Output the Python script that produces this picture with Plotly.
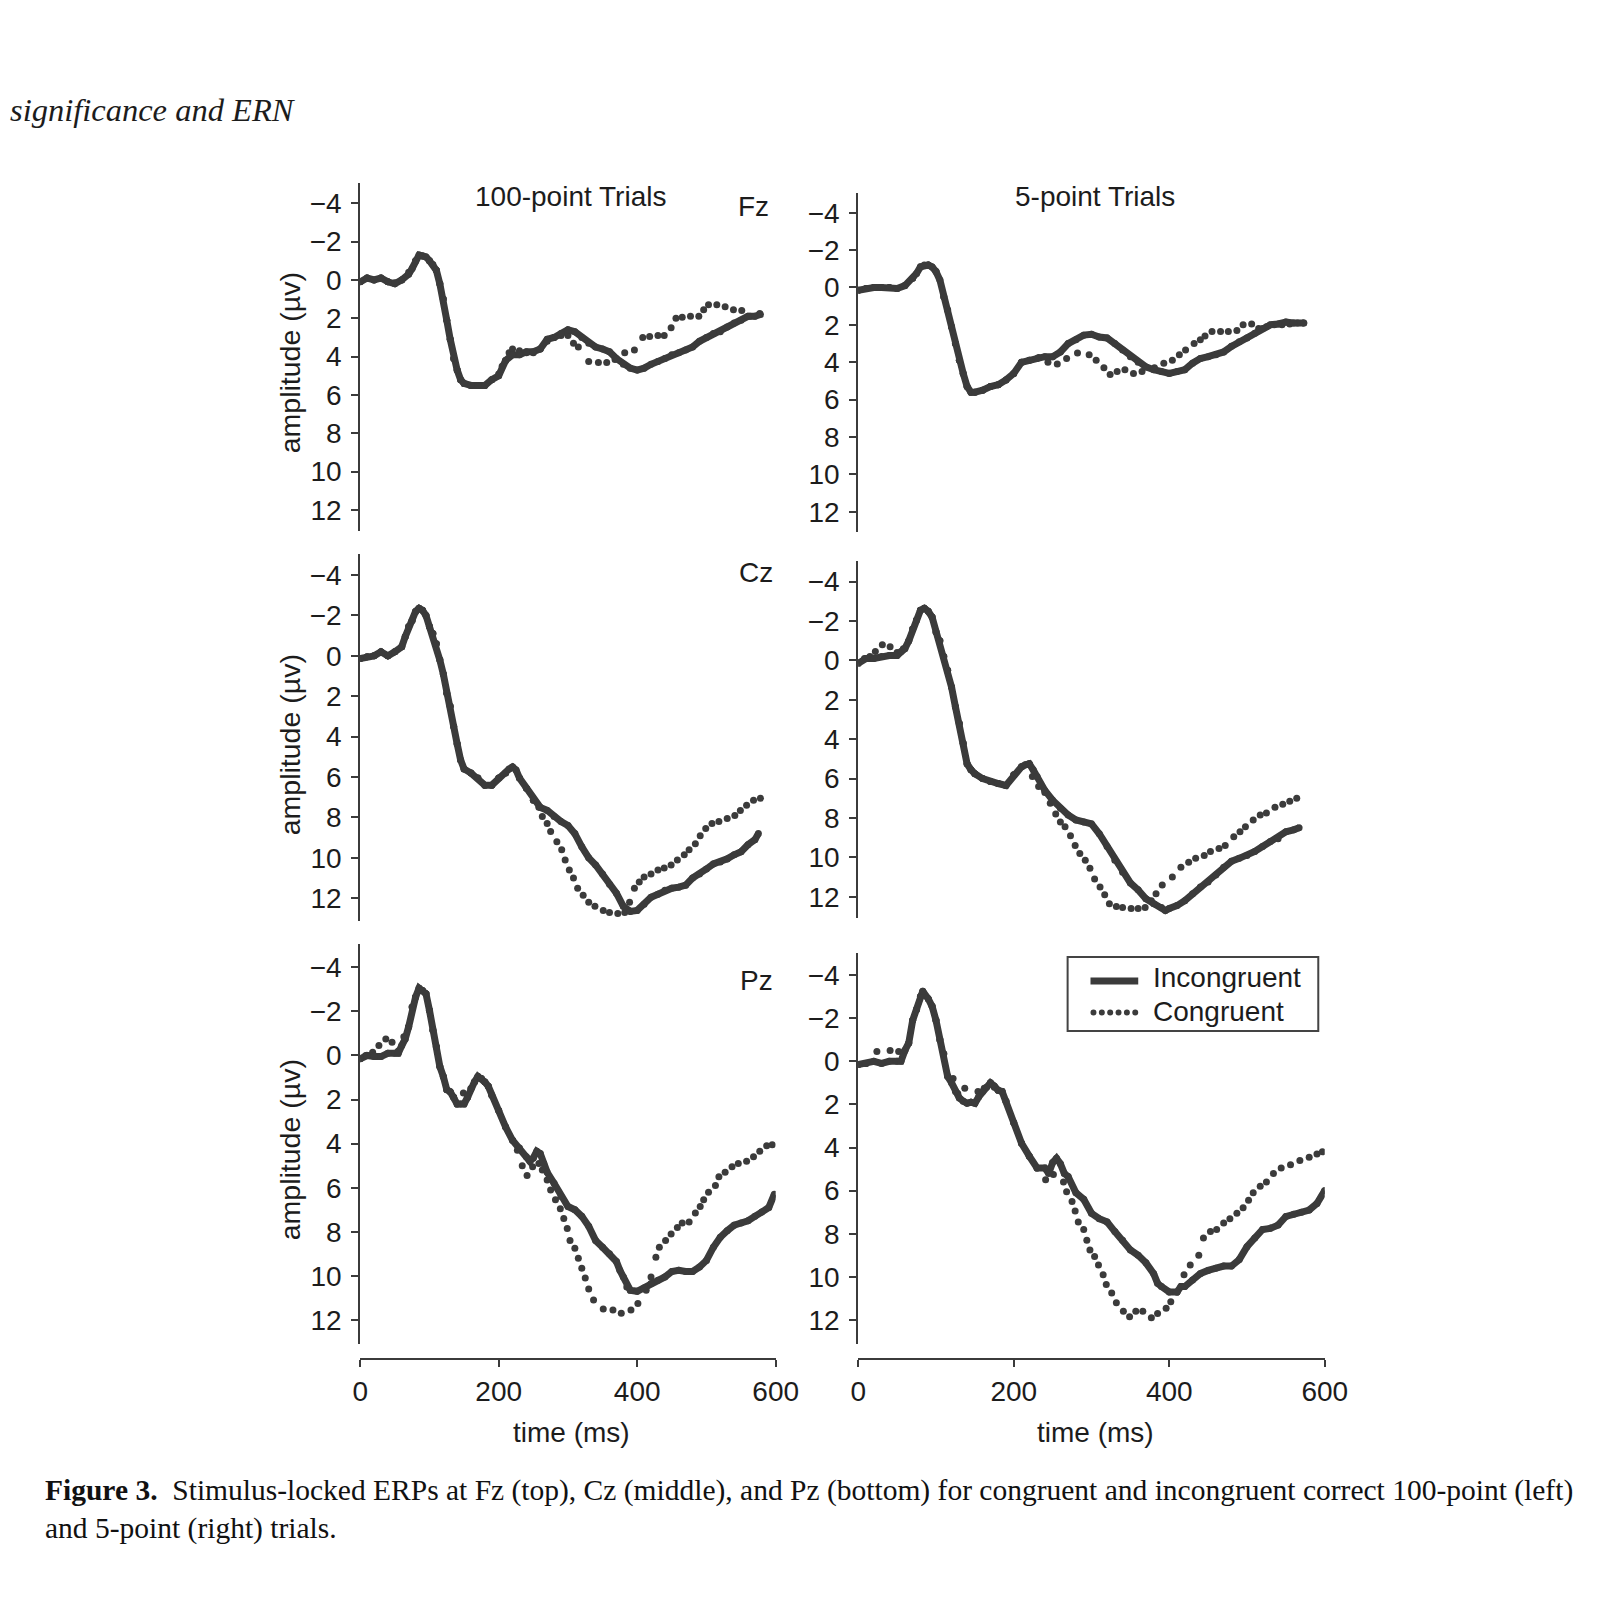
import plotly.graph_objects as go

# The page body keeps the browser's default 8px margin, so the figure is drawn
# 8px smaller than the window on each side and positions are given in window pixels.
PAGE = 1613
OFF = 8
W = H = PAGE - 2 * OFF
SX, DX = 1.01437, -5.45   # horizontal calibration of window pixels
INK = "#3b3b3b"
TXT = "#1c1c1c"
SANS = "Liberation Sans, Arial, Helvetica, sans-serif"
SERIF = "Liberation Serif, Times New Roman, serif"

# ---------------- data (time in ms, amplitude in microvolts) ----------------
# Fz, 100-point trials
FZ100_INC_T = [0, 10, 20, 30, 40, 50, 60, 70, 75, 80, 85, 90, 95, 100, 105, 110, 115, 120, 125, 130, 135, 140, 145, 150,
               160, 170, 180, 190, 200, 210, 220, 230, 240, 250, 260, 270, 280, 290, 300,
               310, 320, 330, 340, 350, 360, 370, 380, 390, 400, 410, 420, 430, 440, 450, 460, 470, 480, 490, 500,
               510, 520, 530, 540, 550, 560, 570, 578]
FZ100_INC_V = [0.1, -0.1, 0, -0.1, 0.1, 0.2, 0, -0.3, -0.6, -1.0, -1.3, -1.25, -1.2, -1.0, -0.8, -0.5, 0.2, 1.0, 2.1, 3.1,
               4.1, 4.7, 5.2, 5.4,
               5.5, 5.5, 5.5, 5.2, 5.0, 4.2, 3.9, 3.9, 3.75, 3.75, 3.6, 3.1, 3.0, 2.8, 2.6,
               2.7, 3.0, 3.3, 3.5, 3.6, 3.75, 4.1, 4.4, 4.6, 4.7, 4.6, 4.4, 4.25, 4.1, 3.9, 3.8, 3.65, 3.5, 3.2, 3.0,
               2.8, 2.7, 2.45, 2.25, 2.1, 1.9, 1.9, 1.8]
FZ100_CON_T = [0, 10, 20, 30, 40, 50, 60, 70, 80, 90, 100,
               110, 115, 120, 125, 130, 135, 140, 145, 150,
               160, 170, 180, 190, 200, 205, 210, 215, 220,
               230, 240, 250, 260, 270, 280, 290, 300,
               308, 315, 330, 344, 356, 368, 382, 396, 408, 418, 430, 439, 449, 456, 465, 477, 489, 496, 503, 515,
               527, 539, 551, 563, 577]
FZ100_CON_V = [0.1, -0.1, 0, -0.1, 0.1, 0.15, 0, -0.4, -1.0, -1.25, -1.0,
               -0.5, 0.2, 1.0, 2.1, 3.1, 4.1, 4.7, 5.2, 5.4,
               5.5, 5.5, 5.5, 5.2, 4.9, 4.5, 4.2, 3.8, 3.6,
               3.7, 3.8, 3.8, 3.6, 3.2, 3.0, 2.9, 2.9,
               3.3, 3.5, 4.25, 4.3, 4.3, 4.15, 3.8, 3.65, 3.0, 2.95, 2.9, 2.9, 2.5, 2.0, 1.95, 1.9, 1.9, 1.55, 1.3, 1.3,
               1.4, 1.55, 1.6, 1.9, 1.75]

# Fz, 5-point trials
FZ5_INC_T = [0, 10, 20, 30, 40, 50, 60, 70, 75, 80, 85, 90, 95, 100, 105, 110, 115, 120, 125, 130, 135, 140, 145, 150,
             160, 170, 180, 190, 200, 210, 220, 230, 240, 250, 260, 270, 280, 290, 300, 310, 320, 330, 340, 350,
             360, 370, 380, 390, 400, 410, 420, 430, 440, 450, 460, 470, 480, 490, 500, 510, 520, 530, 540, 550,
             560, 573]
FZ5_INC_V = [0.15, 0.05, 0, 0, 0, 0.05, -0.1, -0.5, -0.75, -1.1, -1.2, -1.2, -1.1, -0.85, -0.4, 0.5, 1.2, 2.1, 3.0, 3.9,
             4.6, 5.3, 5.6, 5.6,
             5.5, 5.3, 5.2, 4.95, 4.6, 4.0, 3.9, 3.8, 3.7, 3.7, 3.45, 3.0, 2.8, 2.55, 2.5, 2.65, 2.7, 3.0, 3.35, 3.7,
             4.0, 4.25, 4.4, 4.5, 4.6, 4.5, 4.4, 4.05, 3.8, 3.7, 3.6, 3.45, 3.15, 2.9, 2.7, 2.45, 2.2, 2.0, 1.95, 1.85,
             1.9, 1.9]
FZ5_CON_T = [0, 10, 20, 30, 40, 50, 60, 70, 80, 90, 100,
             110, 115, 120, 125, 130, 135, 140, 145, 150,
             160, 170, 180, 190, 200, 210, 220,
             232, 244, 256, 268, 282, 297, 306, 316, 324, 333, 343, 354, 365, 381, 393, 404, 413, 421, 432, 440,
             446, 455, 466, 476, 487, 495, 506, 515, 525, 535, 545, 555, 565, 573]
FZ5_CON_V = [0.15, 0.05, 0, 0, 0, 0.05, -0.1, -0.5, -1.1, -1.2, -0.85,
             0.5, 1.2, 2.1, 3.0, 3.9, 4.6, 5.3, 5.6, 5.6,
             5.5, 5.3, 5.2, 4.95, 4.6, 4.0, 3.9,
             3.75, 4.0, 4.1, 3.8, 3.5, 3.6, 3.9, 4.3, 4.65, 4.5, 4.4, 4.6, 4.5, 4.3, 4.05, 3.9, 3.6, 3.35, 3.0, 2.8,
             2.6, 2.35, 2.35, 2.35, 2.3, 2.0, 1.95, 2.2, 2.1, 2.0, 2.0, 1.95, 1.9, 1.9]

# Cz, 100-point trials
CZ100_INC_T = [0, 10, 20, 30, 40, 50, 60,
               65, 70, 75, 80, 85, 90, 95, 100, 105, 110, 115, 120, 125, 130, 135, 140, 145, 150,
               160, 170, 180, 190, 200, 210, 215, 220, 225,
               230, 240, 250, 260, 270, 280, 290, 300, 310, 320, 330, 340, 350, 360, 370, 380, 390, 400, 410, 420,
               430, 440, 450, 460, 470, 480, 490, 500, 510, 520, 530, 540, 550, 560, 570, 575]
CZ100_INC_V = [0.13, 0.05, 0, -0.2, 0, -0.2, -0.45,
               -0.95, -1.45, -1.75, -2.2, -2.35, -2.25, -2.0, -1.45, -1.1, -0.6, 0.2, 0.9, 1.85, 2.5, 3.5, 4.35, 5.15, 5.6,
               5.8, 6.05, 6.4, 6.4, 6.05, 5.8, 5.6, 5.5, 5.65,
               6.05, 6.55, 7.15, 7.5, 7.65, 7.95, 8.2, 8.4, 8.8, 9.45, 10.0, 10.35, 10.8, 11.3, 11.75, 12.4, 12.65, 12.6,
               12.3, 11.95,
               11.8, 11.6, 11.5, 11.45, 11.35, 11.0, 10.8, 10.55, 10.3, 10.2, 10.05, 9.85, 9.7, 9.35, 9.1, 8.8]
CZ100_CON_T = [0, 10, 20, 30, 40, 50, 60,
               65, 70, 75, 80, 85, 90, 95, 100, 105, 110, 115, 120, 125, 130, 135, 140, 145, 150,
               160, 170, 180, 190, 200, 210, 220, 230, 240, 250,
               258, 263, 270, 275, 284, 291, 296, 302, 308, 314, 322, 330, 339, 351, 360, 372, 382, 389, 396, 403,
               410, 420, 430, 439, 449, 458, 468, 475, 484, 491, 499, 508, 518, 530, 541, 549, 558, 568, 578]
CZ100_CON_V = [0.13, 0.05, 0, -0.2, 0, -0.2, -0.45,
               -0.95, -1.45, -1.75, -2.2, -2.35, -2.25, -2.0, -1.45, -1.1, -0.6, 0.2, 0.9, 1.85, 2.5, 3.5, 4.35, 5.15, 5.6,
               5.8, 6.05, 6.4, 6.4, 6.05, 5.8, 5.5, 6.05, 6.55, 7.15,
               7.5, 7.95, 8.3, 8.7, 9.2, 9.6, 10.1, 10.6, 11.0, 11.5, 11.85, 12.2, 12.4, 12.6, 12.7, 12.75, 12.7, 12.2,
               11.5, 11.2,
               10.95, 10.8, 10.6, 10.5, 10.35, 10.1, 9.85, 9.6, 9.3, 8.9, 8.55, 8.3, 8.2, 8.05, 7.9, 7.65, 7.4, 7.15, 7.05]

# Cz, 5-point trials
CZ5_INC_T = [0, 10, 20, 30, 40, 50,
             55, 60, 65, 70, 75, 80, 85, 90, 95, 100, 105, 110, 115, 120, 125, 130, 135, 140, 145, 150,
             160, 170, 180, 190, 200, 210, 215, 220, 225,
             230, 240, 250, 260, 270, 280, 290, 300, 310, 320, 330, 340, 350, 360, 370, 380, 390, 395,
             400, 410, 420, 430, 440, 450, 460, 470, 480, 490, 500, 510, 520, 530, 540, 550, 560, 567]
CZ5_INC_V = [0.15, -0.1, -0.1, -0.2, -0.25, -0.25,
             -0.45, -0.6, -1.0, -1.6, -2.05, -2.55, -2.65, -2.5, -2.2, -1.45, -1.0, -0.2, 0.5, 1.35, 2.35, 3.2, 4.2, 5.25,
             5.55, 5.75,
             6.0, 6.15, 6.25, 6.35, 5.8, 5.4, 5.3, 5.25, 5.55,
             5.9, 6.6, 7.1, 7.5, 7.85, 8.1, 8.2, 8.3, 8.8, 9.45, 10.15, 10.75, 11.3, 11.65, 12.1, 12.35, 12.55, 12.7,
             12.6, 12.45, 12.2, 11.85, 11.5, 11.25, 10.9, 10.5, 10.2, 10.05, 9.9, 9.7, 9.45, 9.2, 9.05, 8.7, 8.6, 8.5]
CZ5_CON_T = [0, 8, 15, 22, 31, 41, 50, 58,
             65, 70, 75, 80, 85, 90, 95, 100, 105, 110, 115, 120, 125, 130, 135, 140, 145, 150,
             160, 170, 180, 190, 200, 210, 220,
             224, 232, 240, 247, 254, 260, 266, 273, 279, 285, 292, 298, 304, 311, 317, 323, 332, 340, 351, 360, 369,
             377, 383, 391, 404, 415, 425, 434, 445, 453, 464, 472, 483, 491, 498, 508, 517, 525, 536, 546, 555, 564]
CZ5_CON_V = [0.1, -0.1, -0.2, -0.45, -0.8, -0.7, -0.4, -0.6,
             -1.0, -1.6, -2.05, -2.55, -2.65, -2.5, -2.2, -1.45, -1.0, -0.2, 0.5, 1.35, 2.35, 3.2, 4.2, 5.25, 5.55, 5.75,
             6.0, 6.15, 6.25, 6.35, 5.8, 5.4, 5.25,
             5.9, 6.4, 6.7, 7.25, 7.8, 8.2, 8.45, 8.9, 9.4, 9.8, 10.15, 10.55, 11.1, 11.5, 11.9, 12.35, 12.5, 12.55,
             12.6, 12.6, 12.55,
             12.2, 11.85, 11.4, 11.0, 10.5, 10.25, 10.05, 9.9, 9.7, 9.55, 9.4, 8.95, 8.7, 8.45, 8.1, 7.85, 7.75, 7.45,
             7.3, 7.15, 7.0]

# Pz, 100-point trials
PZ100_INC_T = [0, 10, 20, 30, 40, 50,
               55, 60, 65, 70, 75, 80, 85, 90, 95, 100, 105, 110, 115, 120, 125, 130, 135, 140, 145, 150, 155, 160,
               165, 170, 175, 180, 185, 190,
               200, 210, 220, 230, 240, 245, 250, 255, 260, 265, 270,
               280, 290, 300, 310, 320, 330, 340, 350, 360, 370, 375, 380, 385, 390,
               400, 410, 420, 430, 440, 450, 460, 470, 480, 490, 500, 510, 520, 530, 540, 550, 560, 570, 580, 590, 598]
PZ100_INC_V = [0.15, 0, 0.05, 0.05, -0.1, -0.1,
               -0.1, -0.45, -0.75, -1.3, -2.2, -2.65, -3.05, -2.95, -2.8, -2.05, -1.15, -0.4, 0.5, 0.95, 1.55, 1.65, 1.9,
               2.2, 2.2, 2.2, 1.9, 1.5, 1.2, 0.95, 1.05, 1.2, 1.4, 1.8,
               2.5, 3.25, 3.85, 4.2, 4.6, 4.8, 4.65, 4.35, 4.45, 4.9, 5.3,
               5.8, 6.4, 6.85, 7.0, 7.3, 7.75, 8.4, 8.7, 9.0, 9.35, 9.75, 10.05, 10.5, 10.65,
               10.7, 10.55, 10.35, 10.2, 10.05, 9.8, 9.75, 9.8, 9.8, 9.6, 9.3, 8.7, 8.25, 7.95, 7.7, 7.6, 7.5, 7.3, 7.1,
               6.9, 6.3]
PZ100_CON_T = [0, 8, 18, 27, 37, 46, 55, 63,
               70, 75, 80, 85, 90, 95, 100, 105, 110, 115, 120, 125, 130, 135, 140,
               149, 155, 160, 165, 170, 175, 180, 185, 190,
               200, 210, 220,
               227, 234, 241, 249, 258, 263, 270, 275, 282, 289, 294, 299, 303, 310, 315, 320, 325, 330, 337, 351, 365,
               377, 391, 401, 413, 420, 427, 432, 441, 449, 458, 465, 475, 484, 491, 496, 503, 513, 518, 527, 537, 546,
               558, 568, 577, 587, 595]
PZ100_CON_V = [0.15, 0.0, -0.15, -0.45, -0.75, -0.6, -0.2, -0.85,
               -1.3, -2.2, -2.65, -3.05, -2.95, -2.8, -2.05, -1.15, -0.4, 0.5, 0.95, 1.55, 1.65, 1.9, 2.2,
               1.7, 1.9, 1.5, 1.2, 0.95, 1.05, 1.2, 1.4, 1.8,
               2.5, 3.25, 3.85,
               4.3, 5.0, 5.45, 5.05, 4.9, 5.2, 5.65, 6.1, 6.55, 6.95, 7.4, 7.85, 8.4, 8.75, 9.2, 9.65, 10.1, 10.6, 11.1,
               11.5, 11.55,
               11.7, 11.55, 11.25, 10.65, 10.05, 9.15, 8.7, 8.4, 8.1, 7.8, 7.6, 7.55, 7.15, 6.85, 6.55, 6.2, 5.9, 5.5,
               5.3, 5.05, 4.9,
               4.8, 4.6, 4.35, 4.1, 4.05]

# Pz, 5-point trials
PZ5_INC_T = [0, 10, 20, 30, 40, 50,
             55, 60, 65, 70, 75, 80, 83,
             90, 95, 100, 105, 110, 115, 120, 125, 130, 135, 140, 145, 150, 155, 160, 165, 170, 175, 180, 185, 190,
             200, 210, 220, 230, 240, 245, 250, 255, 260, 265, 270,
             280, 290, 300, 310, 320, 330, 340, 350, 360, 370, 380, 385, 390, 400, 410, 415,
             420, 430, 440, 450, 460, 470, 480, 490, 500, 510, 520, 530, 540, 550, 560, 570, 580, 590, 600]
PZ5_INC_V = [0.15, 0.1, 0, 0.1, 0, 0,
             0, -0.5, -0.85, -1.9, -2.4, -3.0, -3.25,
             -2.9, -2.55, -1.9, -1.0, -0.35, 0.7, 1.0, 1.4, 1.7, 1.85, 1.95, 1.9, 1.95, 1.65, 1.4, 1.2, 1.0, 1.15, 1.35,
             1.4, 1.85,
             2.85, 3.8, 4.4, 4.95, 4.95, 5.2, 4.7, 4.5, 4.75, 5.2, 5.35,
             6.1, 6.4, 7.05, 7.3, 7.45, 7.9, 8.3, 8.75, 9.0, 9.35, 9.85, 10.3, 10.45, 10.7, 10.7, 10.45,
             10.45, 10.15, 9.85, 9.7, 9.6, 9.5, 9.5, 9.2, 8.6, 8.2, 7.8, 7.75, 7.6, 7.2, 7.1, 7.0, 6.9, 6.6, 6.0]
PZ5_CON_T = [0, 10, 24, 41, 52, 60,
             65, 70, 75, 80, 83, 90, 95, 100, 105, 110, 115,
             122, 128, 137, 145, 154, 162, 170, 175, 180, 185, 190,
             200, 210, 220, 230,
             241, 251, 264, 268, 275, 279, 283, 290, 294, 298, 304, 309, 315, 319, 326, 332, 341, 349, 357, 366, 377,
             385, 396, 402, 410, 419, 427, 438, 444, 453, 461, 470, 478, 487, 495, 502, 508, 517, 525, 534, 544, 556,
             568, 580, 590, 597]
PZ5_CON_V = [0.15, 0.1, -0.45, -0.5, -0.45, -0.5,
             -0.85, -1.9, -2.4, -3.0, -3.25, -2.9, -2.55, -1.9, -1.0, -0.35, 0.7,
             0.8, 1.5, 1.25, 1.9, 1.4, 1.25, 1.0, 1.2, 1.35, 1.4, 1.85,
             2.85, 3.8, 4.4, 4.95,
             5.5, 5.25, 5.6, 6.05, 6.5, 6.95, 7.45, 7.8, 8.3, 8.75, 9.05, 9.45, 9.9, 10.35, 10.75, 11.2, 11.6, 11.85,
             11.6, 11.6, 11.9,
             11.7, 11.45, 11.15, 10.7, 9.9, 9.45, 9.0, 8.2, 7.9, 7.8, 7.5, 7.3, 7.05, 6.8, 6.45, 6.1, 5.8, 5.6, 5.2,
             4.95, 4.8,
             4.6, 4.45, 4.3, 4.2]

ELECTRODES = ["Fz", "Cz", "Pz"]
CONDITIONS = ["100-point Trials", "5-point Trials"]
SERIES_NAMES = ["Incongruent", "Congruent"]
Y_TICKS = [-4, -2, 0, 2, 4, 6, 8, 10, 12]
X_TICKS = [0, 200, 400, 600]
Y_TITLE = "amplitude (µv)"
X_TITLE = "time (ms)"
HEADER = "significance and ERN"
CAPTION = ("<b>Figure 3.</b>  Stimulus-locked ERPs at Fz (top), Cz (middle), and Pz (bottom) for congruent and "
           "incongruent correct 100-point (left)<br>and 5-point (right) trials.")

PANELS = {
    (0, 0): (FZ100_INC_T, FZ100_INC_V, FZ100_CON_T, FZ100_CON_V),
    (0, 1): (FZ5_INC_T, FZ5_INC_V, FZ5_CON_T, FZ5_CON_V),
    (1, 0): (CZ100_INC_T, CZ100_INC_V, CZ100_CON_T, CZ100_CON_V),
    (1, 1): (CZ5_INC_T, CZ5_INC_V, CZ5_CON_T, CZ5_CON_V),
    (2, 0): (PZ100_INC_T, PZ100_INC_V, PZ100_CON_T, PZ100_CON_V),
    (2, 1): (PZ5_INC_T, PZ5_INC_V, PZ5_CON_T, PZ5_CON_V),
}
for key, (a, b, c, d) in PANELS.items():
    assert len(a) == len(b), (key, "inc", len(a), len(b))
    assert len(c) == len(d), (key, "con", len(c), len(d))


# ---------------- layout geometry (window pixels) ----------------
def px(x):
    return (SX * x + DX - OFF) / W


def py(y):
    return 1 - (y - OFF) / H


COL_X = [(359.3, 777), (860, 1329)]
ROW_Y = {(0, 0): (183.3, 531.1), (0, 1): (193.3, 532.3),
         (1, 0): (554.0, 920.5), (1, 1): (561.2, 918.4),
         (2, 0): (944.4, 1344.2), (2, 1): (952.6, 1343.7)}
Y_RANGE = [13.1, -5.04]
X_RANGE = [0, 600]
XAXIS_Y = 1359
FS = 28

fig = go.Figure()
layout = dict(width=W, height=H, margin=dict(l=0, r=0, t=0, b=0, pad=0), autosize=False,
              paper_bgcolor="white", plot_bgcolor="white", showlegend=False,
              font=dict(family=SANS, color=TXT, size=FS))

tickfont = dict(family=SANS, size=FS, color=TXT)
for (r, c), (it, iv, ct, cv) in PANELS.items():
    k = r * 2 + c + 1
    xn = "x" if k == 1 else f"x{k}"
    yn = "y" if k == 1 else f"y{k}"
    xkey = "xaxis" if k == 1 else f"xaxis{k}"
    ykey = "yaxis" if k == 1 else f"yaxis{k}"
    x0, x1 = COL_X[c]
    top, bot = ROW_Y[(r, c)]
    if r == 2:
        layout[xkey] = dict(domain=[px(x0), px(x1)], range=X_RANGE, anchor="free", position=py(XAXIS_Y),
                            tickvals=X_TICKS, ticks="outside", ticklen=7, tickwidth=2, tickcolor=INK,
                            showline=True, linewidth=2, linecolor=INK, showgrid=False, zeroline=False,
                            tickfont=tickfont, fixedrange=True)
    else:
        layout[xkey] = dict(domain=[px(x0), px(x1)], range=X_RANGE, anchor=yn, visible=False, fixedrange=True)
    layout[ykey] = dict(domain=[py(bot), py(top)], range=Y_RANGE, anchor=xn, tickvals=Y_TICKS,
                        ticks="outside", ticklen=7, tickwidth=2, tickcolor=INK, showline=True, linewidth=2,
                        linecolor=INK, showgrid=False, zeroline=False, tickfont=tickfont, fixedrange=True,
                        ticklabelstandoff=4)
    fig.add_trace(go.Scatter(x=ct, y=cv, mode="markers", name=SERIES_NAMES[1], xaxis=xn, yaxis=yn,
                             marker=dict(size=7, color=INK, line=dict(width=0)), hoverinfo="skip"))
    fig.add_trace(go.Scatter(x=it, y=iv, mode="lines+markers", name=SERIES_NAMES[0], xaxis=xn, yaxis=yn,
                             line=dict(color=INK, width=7), marker=dict(size=7, color=INK, line=dict(width=0)),
                             hoverinfo="skip"))

ann = []


def text(x, y, s, size=FS, xanchor="center", family=SANS, angle=0):
    ann.append(dict(x=px(x), y=py(y), xref="paper", yref="paper", text=s, showarrow=False,
                    xanchor=xanchor, yanchor="middle", textangle=angle,
                    font=dict(family=family, size=size, color=TXT)))


# header and caption
text(5, 110, f"<i>{HEADER}</i>", size=32.5, xanchor="left", family=SERIF)
ann.append(dict(x=px(40), y=py(1509.5), xref="paper", yref="paper", text=CAPTION, showarrow=False,
                xanchor="left", yanchor="middle", align="left",
                font=dict(family=SERIF, size=29.5, color="#111111")))
# column titles
text(571, 196, CONDITIONS[0])
text(1098, 196, CONDITIONS[1])
# electrode labels
for (lx, ly), e in zip([(755, 206), (757, 572), (758, 980)], ELECTRODES):
    text(lx, ly, e)
# y titles
for yc in [363, 745, 1150]:
    text(289, yc, Y_TITLE, size=28.5, angle=-90)
# x titles
text(572, 1432, X_TITLE)
text(1099, 1432, X_TITLE)

# legend (drawn inside the Pz / 5-point panel)
LX = 4.5
shapes = [dict(type="rect", xref="paper", yref="paper", x0=px(1066 + LX), x1=px(1318 + LX), y0=py(957), y1=py(1031),
               line=dict(color="#444444", width=2), fillcolor="white", layer="above"),
          dict(type="line", xref="paper", yref="paper", x0=px(1089 + LX), x1=px(1137 + LX), y0=py(981), y1=py(981),
               line=dict(color=INK, width=7), layer="above")]
for i in range(6):
    cx = 1092 + LX + i * 8.4
    shapes.append(dict(type="circle", xref="paper", yref="paper", x0=px(cx - 3), x1=px(cx + 3),
                       y0=py(1015.5), y1=py(1009.5), fillcolor=INK, line=dict(width=0), layer="above"))
text(1150 + LX, 977, SERIES_NAMES[0], xanchor="left")
text(1150 + LX, 1012, SERIES_NAMES[1], xanchor="left")

layout["annotations"] = ann
layout["shapes"] = shapes
fig.update_layout(**layout)
fig.write_html("out.html")
